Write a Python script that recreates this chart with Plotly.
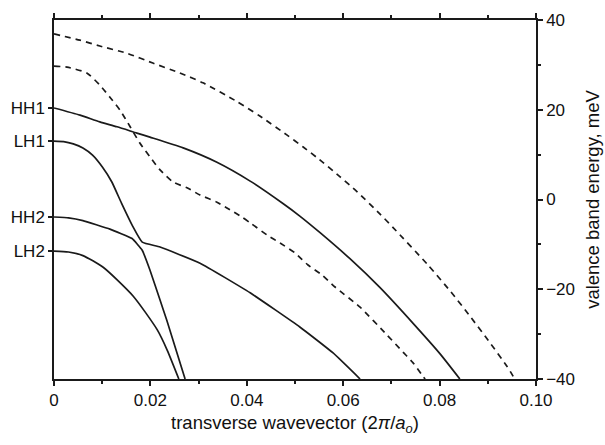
import plotly.graph_objects as go

# ---- data ----
# upper dashed curve
d1_x = [0, 0.0054, 0.0095, 0.0151, 0.0205, 0.0261, 0.0309, 0.0380, 0.0427, 0.0483, 0.0517,
        0.0546, 0.0593, 0.0629, 0.0676, 0.0703, 0.0776, 0.0822, 0.0863, 0.0905, 0.0940, 0.0956]
d1_y = [36.9, 35.5, 34.2, 32.6, 30.4, 28.2, 26.0, 21.8, 18.6, 14.4, 11.7,
        9.3, 5.1, 1.7, -3.2, -6.2, -14.6, -20.4, -26.0, -32.0, -37.2, -40.0]
# lower dashed curve
d2_x = [0, 0.0027, 0.0068, 0.0095, 0.0116, 0.0137, 0.0158, 0.0178, 0.0199, 0.0220, 0.0247,
        0.0276, 0.0303, 0.0338, 0.0365, 0.0390, 0.0407, 0.0442, 0.0469, 0.0500, 0.0527,
        0.0556, 0.0583, 0.0635, 0.0691, 0.0724, 0.0745, 0.0766, 0.0770]
d2_y = [29.7, 29.5, 28.2, 25.5, 22.8, 19.9, 16.2, 12.6, 9.5, 6.6, 3.9,
        2.6, 1.0, -0.6, -2.3, -3.9, -5.2, -7.9, -9.7, -11.9, -14.6,
        -16.8, -19.5, -24.0, -30.2, -34.0, -36.4, -39.5, -40.0]
# HH1
hh1_x = [0, 0.0054, 0.0095, 0.0131, 0.0172, 0.0199, 0.0268, 0.0338, 0.0407, 0.0475, 0.0510,
         0.0552, 0.0614, 0.0676, 0.0745, 0.0801, 0.0842]
hh1_y = [20.4, 18.8, 17.3, 16.2, 14.8, 13.9, 11.5, 8.3, 4.1, -0.9, -3.7,
         -7.4, -13.2, -19.6, -27.6, -34.4, -40.0]
# LH1 (continuing as the shallow branch after the anticrossing)
lh1_x = [0, 0.002, 0.004, 0.006, 0.008, 0.010, 0.012, 0.014, 0.0164, 0.0183, 0.0220, 0.0303,
         0.0407, 0.0510, 0.0579, 0.0635]
lh1_y = [13.0, 12.9, 12.4, 11.5, 9.9, 7.3, 3.9, -0.8, -6.1, -9.5, -10.6, -14.2,
         -20.8, -28.4, -34.2, -40.0]
# HH2 (continuing as the steep branch after the anticrossing)
hh2_x = [0, 0.003, 0.0060, 0.0116, 0.0162, 0.0183, 0.0199, 0.0220, 0.0234, 0.0272]
hh2_y = [-3.9, -4.1, -4.7, -6.6, -8.7, -11.3, -15.7, -22.4, -26.9, -40.0]
# LH2
lh2_x = [0, 0.003, 0.0060, 0.0102, 0.0164, 0.0214, 0.0235, 0.0259]
lh2_y = [-11.5, -11.7, -12.5, -15.1, -21.5, -29.0, -33.6, -40.0]

level_labels = ["HH1", "LH1", "HH2", "LH2"]
x_tickvals = [0, 0.02, 0.04, 0.06, 0.08, 0.10]
x_ticktext = ["0", "0.02", "0.04", "0.06", "0.08", "0.10"]
y_tickvals = [-40, -20, 0, 20, 40]

FONT = "Liberation Sans, Arial, sans-serif"
LC = "#1a1a1a"

fig = go.Figure()
for xs, ys, dash, sm in [(d1_x, d1_y, "6px,5px", 0.6),
                         (d2_x, d2_y, "6px,5px", 0.6),
                         (hh1_x, hh1_y, "solid", 0.6),
                         (lh1_x, lh1_y, "solid", 0.4),
                         (hh2_x, hh2_y, "solid", 0.3),
                         (lh2_x, lh2_y, "solid", 0.6)]:
    fig.add_trace(go.Scatter(x=xs, y=ys, mode="lines",
                             line=dict(color=LC, width=1.7, dash=dash, shape="spline", smoothing=sm),
                             hoverinfo="skip", showlegend=False))
# invisible trace to anchor the right axis
fig.add_trace(go.Scatter(x=[0, 0.1], y=[-40, 40], yaxis="y2", mode="markers",
                         marker=dict(opacity=0), hoverinfo="skip", showlegend=False))

fig.update_layout(
    width=605, height=445,
    margin=dict(l=54, r=69, t=20, b=66, autoexpand=False),
    paper_bgcolor="white", plot_bgcolor="white",
    font=dict(family=FONT, size=17, color="#111"),
    xaxis=dict(range=[0, 0.1], tickvals=x_tickvals, ticktext=x_ticktext,
               ticks="outside", ticklen=5, tickwidth=1.5, tickcolor=LC,
               minor=dict(dtick=0.01, tick0=0, ticks="outside", ticklen=3, tickwidth=1.5, tickcolor=LC),
               showline=True, linecolor=LC, linewidth=1.5, mirror="ticks",
               showgrid=False, zeroline=False,
               title=dict(text="transverse wavevector (2<i>π</i>/<i>a<sub>o</sub></i>)",
                          font=dict(size=18.5), standoff=7)),
    yaxis=dict(range=[-40, 40],
               tickvals=[hh1_y[0], lh1_y[0], hh2_y[0], lh2_y[0]], ticktext=level_labels,
               ticks="outside", ticklen=4, tickwidth=1.5, tickcolor=LC,
               showline=True, linecolor=LC, linewidth=1.5,
               showgrid=False, zeroline=False),
    yaxis2=dict(range=[-40, 40], overlaying="y", side="right",
                tickvals=y_tickvals, ticks="outside", ticklen=5, tickwidth=1.5, tickcolor=LC,
                minor=dict(dtick=10, tick0=0, ticks="outside", ticklen=3, tickwidth=1.5, tickcolor=LC),
                showline=True, linecolor=LC, linewidth=1.5,
                showgrid=False, zeroline=False,
                title=dict(text="valence band energy, meV", font=dict(size=18.5), standoff=12)),
)

fig.write_html("out.html")
